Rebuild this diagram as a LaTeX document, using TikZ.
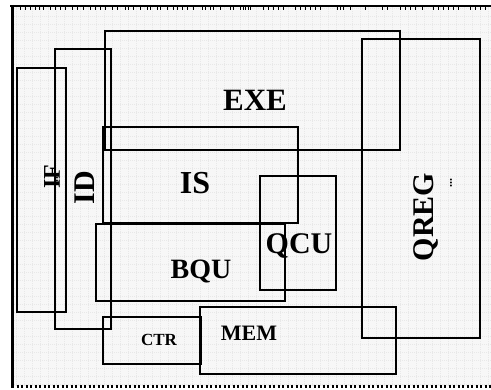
\documentclass[tikz,border=0pt]{standalone}
\usepackage{fontspec}
\setmainfont{Liberation Serif}
\usetikzlibrary{positioning}

\newcommand{\blkfont}[1]{\fontsize{#1}{#1}\selectfont\bfseries}

\begin{document}
\begin{tikzpicture}[
			x=1pt, y=-1pt,
			blk/.style={draw, line width=1.6pt},
			lbl/.style={inner sep=0pt, font=\blkfont{26}},
			dots/.style={inner sep=0pt, rotate=90, font=\blkfont{12}},
			edge/.style={line width=1.2pt}
		]

		% die background with faint grid
		\useasboundingbox (0,0) rectangle (491,390);
		\fill[black!3] (12,6) rectangle (491,386);
		\draw[black!9, line width=0.6pt, dash pattern=on 1pt off 1pt] (12,6) grid[step=8pt] (491,386);

		% die edges
		\draw[line width=3pt] (12,5) -- (12,388);
		\draw[edge] (10,6) -- (491,6);
		\foreach \x in {20,25,30,35,39,43,50,55,60,65,72,77,83,90,95,100,105,112,117,125,128,133,140,147,150,157,160,167,173,177,182,187,193,202,205,210,213,220,230,233,240,245,250,
				243,248,263,268,273,278,283,295,300,305,310,315,320,337,340,343,350,365,382,387,400,405,410,415,422,433,438,443,448,453,458,470,475,480,485}
			\draw[line width=1pt] (\x,6) -- (\x,10);
		\draw[line width=3pt, dash pattern=on 2pt off 2.5pt] (12,386.5) -- (491,386.5);

		% blocks
		\draw[blk] (105,31) rectangle (400,150);
		\draw[blk] (362,39) rectangle (480,338);
		\draw[blk] (55,49) rectangle (111,329);
		\draw[blk] (17,68) rectangle (66,312);
		\draw[blk] (103,127) rectangle (298,223);
		\draw[blk] (260,176) rectangle (336,290);
		\draw[blk] (96,224) rectangle (285,301);
		\draw[blk] (200,307) rectangle (396,374);
		\draw[blk] (103,317) rectangle (201,364);

		% block names
		\node[lbl, font=\blkfont{31}] (exe) at (255,100) {EXE};
		\node[lbl, font=\blkfont{32}] (is) at (195,183) {IS};
		\node[lbl, font=\blkfont{28}] (bqu) at (201,272) {BQU};
		\node[lbl, font=\blkfont{30}] (qcu) at (299,246) {QCU};
		\node[lbl, font=\blkfont{30}, rotate=90] (qreg) at (426,217) {QREG};
		\node[lbl, font=\blkfont{24}, rotate=90] (if) at (52,177) {IF};
		\node[lbl, font=\blkfont{30}, rotate=90] (id) at (85,188) {ID};
		\node[lbl, font=\blkfont{17}] (ctr) at (159,340) {CTR};
		\node[lbl, font=\blkfont{22}] (mem) at (249,333) {MEM};
		\node[dots] (ifdots) at (57,181) {...};
		\node[dots] (qregdots) at (451,183) {...};
	\end{tikzpicture}
\end{document}
